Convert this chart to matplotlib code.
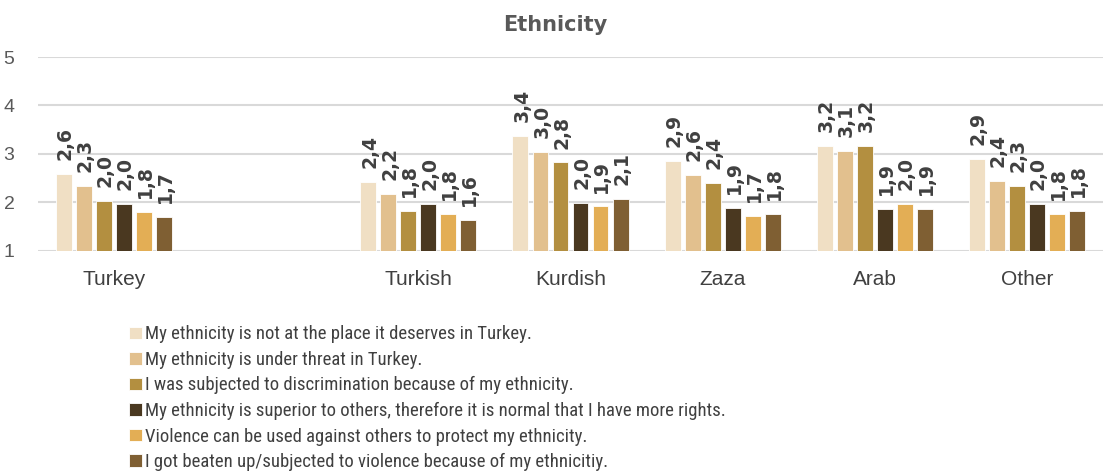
import matplotlib.pyplot as plt
import numpy as np

categories = ['Turkey', '', 'Turkish', 'Kurdish', 'Zaza', 'Arab', 'Other']

series_names = [
    'My ethnicity is not at the place it deserves in Turkey.',
    'My ethnicity is under threat in Turkey.',
    'I was subjected to discrimination because of my ethnicity.',
    'My ethnicity is superior to others, therefore it is normal that I have more rights.',
    'Violence can be used against others to protect my ethnicity.',
    'I got beaten up/subjected to violence because of my ethnicitiy.',
]

not_deserved = [2.59, np.nan, 2.41, 3.36, 2.86, 3.17, 2.89]
under_threat = [2.33, np.nan, 2.17, 3.04, 2.57, 3.06, 2.43]
discriminated = [2.03, np.nan, 1.82, 2.82, 2.40, 3.17, 2.34]
superior = [1.97, np.nan, 1.96, 1.99, 1.88, 1.86, 1.97]
violence_ok = [1.79, np.nan, 1.76, 1.91, 1.71, 1.97, 1.76]
beaten_up = [1.69, np.nan, 1.63, 2.07, 1.76, 1.86, 1.81]

series = [not_deserved, under_threat, discriminated, superior, violence_ok, beaten_up]
colors = ['#F0DFC4', '#E2C08E', '#B38F40', '#4A3820', '#E3AE55', '#7F5F33']

fig = plt.figure(figsize=(11.03, 4.72), dpi=100)
ax = fig.add_axes([38 / 1103, 1 - 250.5 / 472, 1 - 38 / 1103, (250.5 - 57) / 472])

x = np.arange(len(categories))
step = 0.1315
width = 0.105
for i, (vals, col, name) in enumerate(zip(series, colors, series_names)):
    pos = x + (i - 2.5) * step
    v = np.array(vals, dtype=float)
    ax.bar(pos, v - 1, width, bottom=1, color=col, edgecolor='#ffffff',
           linewidth=0.6, label=name, zorder=3)
    for p, val in zip(pos, v):
        if np.isnan(val):
            continue
        ax.annotate(f"{val:.1f}".replace('.', ','), (p, val), xytext=(1, 10),
                    textcoords='offset points', rotation=90, ha='center', va='bottom',
                    fontsize=13.5, fontweight='bold', color='#404040',
                    family='DejaVu Sans')

ax.set_xlim(-0.5, len(categories) - 0.5)
ax.set_ylim(1, 5)
ax.set_yticks([1, 2, 3, 4, 5])
ax.set_xticks(x)
ax.set_xticklabels(categories, fontsize=15, color='#404040',
                   family=['Liberation Sans', 'DejaVu Sans'])
for lab in ax.get_yticklabels():
    lab.set_fontsize(14)
    lab.set_color('#595959')
    lab.set_family(['Liberation Sans', 'DejaVu Sans'])
ax.tick_params(axis='x', length=0, pad=14)
ax.tick_params(axis='y', length=0, pad=17)
ax.grid(axis='y', color='#d9d9d9', linewidth=1.5, zorder=0)
for s in ax.spines.values():
    s.set_visible(False)

fig.text(555 / 1103, 1 - 25 / 472, 'Ethnicity', ha='center', va='center',
         fontsize=15, fontweight='bold', color='#595959', family='DejaVu Sans')

fig.legend(loc='upper left', bbox_to_anchor=(120 / 1103, 1 - 316 / 472),
           frameon=False, borderpad=0, handlelength=0.65, handleheight=0.65,
           handletextpad=0.2, labelspacing=0.4,
           prop={'family': ['Roboto Condensed', 'DejaVu Sans'], 'size': 13.5},
           labelcolor='#404040')

fig.savefig('out.png', dpi=100)
